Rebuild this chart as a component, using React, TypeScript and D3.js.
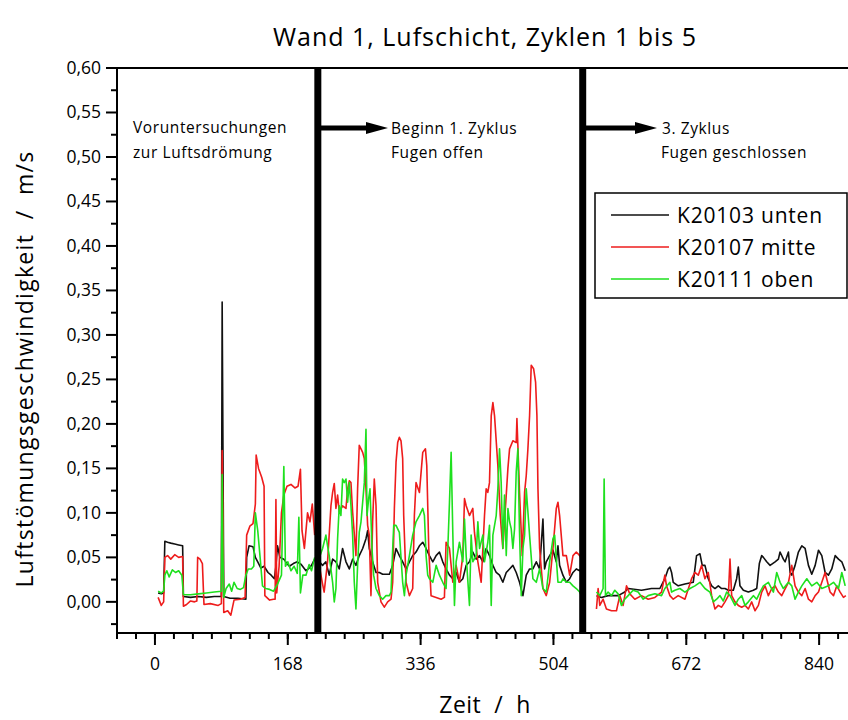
import React from "react";
import * as d3 from "d3";

type P = [number, number];

const title = "Wand 1, Lufschicht, Zyklen 1 bis 5";
const xLabel = "Zeit  /  h";
const yLabel = "Luftstömungsgeschwindigkeit  /  m/s";
const xTicksMajor = [0, 168, 336, 504, 672, 840];
const yTicksMajor = [0, 0.05, 0.1, 0.15, 0.2, 0.25, 0.3, 0.35, 0.4, 0.45, 0.5, 0.55, 0.6];
const seriesNames = ["K20103 unten", "K20107 mitte", "K20111 oben"];
const seriesColors = ["#111111", "#ee1c1c", "#1ee01e"];
const cycleMarks = [206, 541];

const untenA: P[] = [[4,0.01],[8,0.009],[11,0.01],[12.5,0.068],[16,0.067],[20,0.066],[25,0.065],[30,0.064],[35,0.063],[36,0.006],[45,0.005],[55,0.006],[65,0.005],[75,0.006],[84,0.006],[85,0.337],[86,0.176],[87,0.006],[95,0.004],[105,0.004],[115,0.003],[116,0.05],[119,0.063],[124,0.062],[127,0.05],[130,0.045],[134,0.038],[138,0.04],[143,0.033],[147,0.03],[151,0.026],[153,0.04],[155,0.063],[158,0.05],[163,0.048],[167,0.043],[170,0.04],[175,0.043],[180,0.045],[185,0.042],[191,0.035],[195,0.038],[198,0.041],[202,0.048]];
const untenB: P[] = [[208,0.045],[212,0.041],[216.2,0.045],[220.4,0.03],[224.7,0.048],[228.9,0.045],[233.1,0.037],[237.3,0.06],[241.6,0.045],[245.8,0.037],[250,0.048],[254.2,0.041],[258.4,0.052],[262.7,0.06],[266.9,0.071],[269,0.08],[271.1,0.06],[275.3,0.045],[279.6,0.033],[283.8,0.033],[288,0.031],[296.5,0.031],[300.7,0.041],[304.9,0.06],[309.1,0.052],[313.3,0.045],[317.6,0.037],[321.8,0.045],[326,0.052],[330.2,0.056],[334.5,0.063],[338.7,0.067],[342.9,0.06],[347.1,0.052],[351.4,0.045],[355.6,0.052],[359.8,0.056],[364,0.045],[368.2,0.037],[372.5,0.03],[376.7,0.026],[380.9,0.033],[385.1,0.022],[389.4,0.026],[393.6,0.041],[397.8,0.045],[402,0.056],[406.3,0.048],[410.5,0.052],[414.7,0.045],[418.9,0.06],[423.1,0.052],[427.4,0.041],[431.6,0.033],[435.8,0.03],[440,0.022],[444.3,0.033],[448.5,0.037],[452.7,0.041],[456.9,0.033],[461.1,0.022],[465.4,0.007],[469.6,0.03],[473.8,0.037],[478,0.037],[482.3,0.045],[486.5,0.037],[490.7,0.093],[492.8,0.037],[494.9,0.045],[499.2,0.052],[503.4,0.058],[507.6,0.045],[509.7,0.063],[511.8,0.041],[516,0.03],[520.3,0.022],[524.5,0.026],[528.7,0.033],[532.9,0.037],[537.2,0.035],[541.4,0.041]];
const untenC: P[] = [[558.4,0.007],[564.7,0.005],[573.1,0.007],[585.8,0.007],[594.2,0.011],[598.5,0.015],[615.4,0.013],[628,0.015],[638.6,0.015],[644.9,0.026],[649.1,0.037],[651.3,0.039],[653.4,0.033],[655.5,0.022],[661.8,0.018],[670.3,0.02],[680.8,0.022],[685,0.052],[689.3,0.054],[692.2,0.041],[695.6,0.041],[699.8,0.026],[704.1,0.018],[708.3,0.015],[712.5,0.018],[716.7,0.015],[720.9,0.015],[725.2,0.013],[731.5,0.013],[735.7,0.026],[737.8,0.039],[739.9,0.018],[744.2,0.013],[750.5,0.011],[756.8,0.013],[761.1,0.015],[764.4,0.043],[767.4,0.052],[769.5,0.05],[773.7,0.045],[778,0.041],[784.3,0.045],[788.5,0.048],[790.6,0.056],[794.8,0.048],[797,0.045],[801.2,0.056],[803.3,0.033],[805.4,0.03],[809.6,0.041],[813.8,0.056],[818.1,0.063],[822.3,0.06],[826.5,0.041],[830.7,0.031],[835,0.041],[839.2,0.058],[843.4,0.052],[847.6,0.033],[851.8,0.03],[856,0.037],[860.3,0.052],[864.5,0.048],[868.7,0.045],[873,0.035]];

const mitteA: P[] = [[4,0.005],[8,-0.004],[11,0.0],[12.5,0.05],[16,0.052],[20,0.048],[25,0.053],[30,0.05],[35,0.051],[36,-0.005],[40,-0.003],[45,0.001],[50,0.0],[53,0.001],[54,0.05],[57,0.048],[60,0.043],[62,-0.003],[70,-0.002],[80,-0.004],[84,-0.002],[85,0.17],[86,0.1],[87,-0.012],[92,-0.01],[96,-0.015],[100,0.002],[108,0.003],[114,0.005],[116,0.075],[120,0.085],[124,0.088],[127,0.11],[128,0.165],[131,0.15],[135,0.14],[138,0.13],[139,0.007],[145,0.002],[150,0.003],[152,0.003],[153,0.115],[154,0.01],[157,0.04],[160,0.1],[163,0.12],[167,0.13],[172,0.132],[177,0.128],[181,0.13],[184,0.149],[186,0.08],[189,0.06],[193,0.1],[196,0.09],[199,0.11],[202,0.075]];
const mitteB: P[] = [[208,0.04],[212,0.02],[214,0.011],[218.3,0.045],[222.6,0.108],[224.7,0.123],[226.8,0.133],[228.9,0.105],[231,0.12],[233.1,0.101],[237.3,0.108],[241.6,0.105],[243.7,0.127],[245.8,0.136],[247.9,0.134],[250,0.101],[254.2,0.052],[256.3,0.127],[258.4,0.176],[260.6,0.172],[262.7,0.168],[264.8,0.161],[266.9,0.127],[269,0.086],[271.1,0.075],[273.2,0.007],[275.3,0.09],[277.4,0.138],[279.6,0.108],[281.7,0.022],[285.9,0.0],[290.1,-0.006],[294.3,0.0],[298.6,0.003],[300.7,0.022],[302.8,0.105],[304.9,0.157],[307,0.179],[309.1,0.185],[311.2,0.181],[313.3,0.161],[314.6,0.097],[317.6,0.022],[321.8,0.007],[326,0.015],[328.1,0.097],[330.2,0.134],[334.5,0.123],[338.7,0.168],[342.1,0.172],[343.8,0.153],[346.3,0.06],[349.2,0.007],[355.6,0.005],[361.9,0.003],[366.1,0.005],[368.2,0.067],[372.5,0.06],[376.7,0.022],[380.9,0.041],[385.1,0.022],[389.4,0.052],[391.5,0.116],[393.6,0.108],[397.8,0.097],[402,0.105],[404.1,0.078],[408.4,0.045],[412.6,0.022],[416.8,0.097],[418.9,0.127],[421,0.123],[423.1,0.134],[425.3,0.209],[427.4,0.224],[429.5,0.209],[433.7,0.153],[436.7,0.097],[440,0.06],[444.3,0.12],[446.4,0.15],[448.5,0.172],[452.7,0.181],[456.9,0.179],[457.8,0.206],[459,0.176],[461.1,0.123],[464.5,0.052],[467.5,0.123],[469.6,0.142],[471.7,0.172],[473.8,0.209],[475.9,0.266],[478.9,0.262],[481.4,0.247],[483.1,0.209],[484.4,0.127],[486.5,0.06],[490.7,0.015],[494.9,0.007],[499.2,0.022],[503.4,0.06],[507.6,0.105],[509.7,0.112],[511.8,0.097],[516,0.052],[520.3,0.052],[524.5,0.03],[528.7,0.052],[532.9,0.056],[537.2,0.052],[541.4,0.045]];
const mitteC: P[] = [[558.4,-0.008],[560.5,0.015],[562.6,-0.004],[566.8,0.003],[571,-0.008],[577.4,-0.01],[583.7,-0.01],[587.9,0.007],[592.1,-0.004],[596.4,0.018],[600.6,0.009],[606.9,0.003],[615.4,0.007],[623.8,0.003],[632.3,0.005],[640.7,0.011],[644.9,0.03],[647,0.018],[651.3,0.007],[655.5,0.003],[661.8,0.007],[670.3,0.003],[678.7,0.026],[682.9,0.033],[687.2,0.03],[691.4,0.041],[695.6,0.026],[699.8,0.033],[704.1,0.007],[708.3,-0.008],[712.5,-0.004],[716.7,-0.006],[720.9,0.0],[725.2,0.007],[727.3,0.048],[729.4,0.007],[733.6,0.0],[737.8,-0.004],[742.1,-0.006],[746.3,-0.004],[750.5,-0.008],[754.7,0.0],[758.9,-0.01],[763.2,-0.004],[767.4,0.011],[771.6,0.018],[775.8,0.007],[780.1,0.015],[784.3,0.018],[788.5,0.011],[792.7,0.007],[801.2,0.022],[805.4,0.041],[809.6,0.018],[813.8,0.011],[818.1,0.007],[822.3,0.015],[826.5,0.003],[830.7,0.0],[835,0.007],[839.2,0.011],[843.4,0.022],[847.6,0.033],[853.9,0.011],[858.2,0.007],[862.4,0.018],[866.6,0.011],[870.8,0.005],[873.8,0.007]];

const obenA: P[] = [[4,0.012],[8,0.01],[11,0.012],[12.5,0.03],[15,0.035],[18,0.028],[22,0.036],[26,0.033],[30,0.035],[34,0.03],[36,0.008],[45,0.008],[55,0.009],[65,0.01],[75,0.011],[84,0.012],[85,0.143],[86,0.05],[87,0.005],[90,0.015],[94,0.02],[97,0.012],[100,0.022],[104,0.015],[108,0.014],[112,0.016],[115,0.03],[118,0.037],[122,0.037],[125,0.04],[127,0.1],[130,0.08],[133,0.05],[136,0.018],[140,0.015],[145,0.014],[150,0.012],[155,0.02],[160,0.03],[163,0.152],[165,0.04],[168,0.045],[172,0.035],[176,0.04],[180,0.032],[182,0.095],[184,0.01],[187,0.03],[191,0.03],[195,0.042],[198,0.035],[202,0.05]];
const obenB: P[] = [[208,0.05],[212,0.06],[216.2,0.075],[218.3,0.063],[220.4,0.052],[224.7,0.022],[226.8,0.0],[228.9,0.015],[231,0.071],[233.1,0.108],[235.2,0.097],[237.3,0.138],[239.4,0.134],[241.6,0.138],[243.7,0.112],[245.8,0.134],[247.9,0.108],[250,0.075],[252.1,0.022],[254.2,-0.008],[256.3,0.041],[258.4,0.078],[260.6,0.09],[262.7,0.112],[264.8,0.134],[266.9,0.194],[268.2,0.097],[270.3,0.116],[272,0.127],[274.5,0.06],[276.6,0.03],[279.6,0.015],[283.8,0.007],[288,0.003],[292.2,0.007],[296.5,0.007],[298.6,0.011],[300.7,0.06],[302,0.086],[304.9,0.086],[309.1,0.078],[313.3,0.022],[315.5,0.007],[317.6,0.03],[321.8,0.052],[326,0.075],[330.2,0.09],[334.5,0.097],[338.7,0.105],[340.8,0.097],[342.9,0.052],[345,0.03],[347.1,0.026],[351.4,0.022],[355.6,0.041],[359.8,0.03],[364,0.022],[368.2,0.015],[370.4,0.06],[372.5,0.112],[374.6,0.168],[376.7,0.078],[378.8,-0.004],[380.9,0.045],[385.1,0.067],[389.4,0.045],[391.5,0.093],[393.6,0.052],[397.8,-0.004],[399.9,0.075],[402,0.045],[406.3,0.052],[408.4,0.09],[410.5,0.06],[414.7,0.075],[416.8,0.045],[421,0.067],[423.1,0.086],[425.3,-0.004],[427.4,0.075],[431.6,0.097],[433.7,0.127],[435.8,0.172],[437.9,0.134],[440,0.06],[442.1,0.12],[444.3,0.052],[446.4,0.105],[448.5,0.09],[450.6,0.082],[452.7,0.06],[454.8,0.082],[456.9,0.146],[459,0.172],[461.1,0.078],[463.3,0.007],[465.4,0.06],[467.5,0.075],[469.6,0.127],[473.8,0.075],[478,0.026],[482.3,0.022],[486.5,0.037],[490.7,0.015],[494.9,0.011],[499.2,0.045],[503.4,0.071],[505.5,0.075],[509.7,0.022],[513.9,0.022],[516,0.026],[520.3,0.022],[524.5,0.022],[528.7,0.018],[532.9,0.015],[537.2,0.011],[541.4,0.003]];
const obenC: P[] = [[558.4,0.011],[562.6,0.007],[566.8,0.015],[568.1,0.138],[569.8,0.007],[573.1,0.011],[577.4,0.007],[581.6,0.013],[585.8,0.009],[590,-0.004],[594.2,0.003],[598.5,0.007],[604.8,0.013],[611.1,0.011],[617.5,0.003],[623.8,0.007],[632.3,0.009],[640.7,0.007],[644.9,0.015],[651.3,0.022],[653.4,0.011],[657.6,0.013],[663.9,0.015],[670.3,0.011],[676.6,0.015],[682.9,0.018],[689.3,0.022],[695.6,0.015],[701.9,0.011],[706.2,0.0],[710.4,0.003],[714.6,0.007],[718.8,0.001],[723.1,0.011],[727.3,0.007],[733.6,-0.004],[737.8,0.003],[742.1,0.007],[746.3,-0.004],[750.5,0.0],[756.8,0.007],[761.1,0.003],[765.3,0.011],[769.5,0.018],[775.8,0.022],[782.2,0.011],[786.4,0.033],[790.6,0.022],[794.8,0.015],[801.2,0.022],[805.4,0.018],[809.6,0.003],[813.8,0.011],[818.1,0.018],[824.4,0.026],[830.7,0.018],[837.1,0.022],[843.4,0.015],[851.8,0.018],[858.2,0.022],[864.5,0.015],[868.7,0.033],[873,0.018]];

const W = 848, H = 720;
const L = 117, R = 846, T = 68, B = 633;
const FONT = "'Open Sans', 'Noto Sans', sans-serif";

export default function App() {
  const x = d3.scaleLinear().domain([-48, 874]).range([L, R]);
  const y = d3.scaleLinear().domain([-0.035, 0.6]).range([B, T]);
  const line = d3.line<P>().x((d) => x(d[0])).y((d) => y(d[1]));
  const series: P[][][] = [
    [untenA, untenB, untenC],
    [mitteA, mitteB, mitteC],
    [obenA, obenB, obenC],
  ];
  const xMinor = d3.range(-48, 874, 24);
  const yMinor = d3.range(-0.025, 0.6, 0.05);
  const fmt = (v: number) => v.toFixed(2).replace(".", ",");
  const arrowY = 128;

  return (
    <svg width={W} height={H} style={{ position: "absolute", left: 0, top: 0, background: "#fff" }} fontFamily={FONT}>
      <defs>
        <clipPath id="plotclip">
          <rect x={L} y={T} width={R - L + 2} height={B - T} />
        </clipPath>
      </defs>
      <text x={485} y={46} textAnchor="middle" fontSize={25} letterSpacing={1}>{title}</text>

      {/* data */}
      <g clipPath="url(#plotclip)">
        {series.map((segs, i) =>
          segs.map((seg, j) => (
            <path key={`${i}-${j}`} d={line(seg) || ""} fill="none" stroke={seriesColors[i]} strokeWidth={1.6} strokeLinejoin="round" />
          ))
        )}
      </g>

      {/* cycle lines */}
      {cycleMarks.map((c) => (
        <line key={c} x1={x(c)} x2={x(c)} y1={T} y2={B} stroke="#000" strokeWidth={7} />
      ))}
      {/* arrows */}
      {[{ x0: x(cycleMarks[0]), x1: 388 }, { x0: x(cycleMarks[1]), x1: 657 }].map((a, i) => (
        <g key={i}>
          <line x1={a.x0} x2={a.x1 - 18} y1={arrowY} y2={arrowY} stroke="#000" strokeWidth={5} />
          <path d={`M${a.x1 - 22},${arrowY - 6} L${a.x1},${arrowY} L${a.x1 - 22},${arrowY + 6} Z`} fill="#000" />
        </g>
      ))}
      <g fontSize={15.5} letterSpacing={0.6}>
        <text x={133} y={133}>Voruntersuchungen</text>
        <text x={133} y={158}>zur Luftsdrömung</text>
        <text x={391} y={134}>Beginn 1. Zyklus</text>
        <text x={391} y={158}>Fugen offen</text>
        <text x={662} y={134}>3. Zyklus</text>
        <text x={661} y={158}>Fugen geschlossen</text>
      </g>

      {/* frame */}
      <line x1={L} x2={W} y1={T} y2={T} stroke="#000" strokeWidth={2} />
      <line x1={L} x2={L} y1={T} y2={B + 1} stroke="#000" strokeWidth={2} />
      <line x1={L} x2={W} y1={B} y2={B} stroke="#000" strokeWidth={2} />

      {/* y ticks */}
      {yTicksMajor.map((t) => (
        <g key={t}>
          <line x1={L - 11} x2={L} y1={y(t)} y2={y(t)} stroke="#000" strokeWidth={2} />
          <text x={101} y={y(t) + 6} textAnchor="end" fontSize={17.5}>{fmt(t)}</text>
        </g>
      ))}
      {yMinor.map((t) => (
        <line key={t} x1={L - 6} x2={L} y1={y(t)} y2={y(t)} stroke="#000" strokeWidth={2} />
      ))}
      {/* x ticks */}
      {xMinor.map((t) => (
        <line key={t} x1={x(t)} x2={x(t)} y1={B} y2={B + 6} stroke="#000" strokeWidth={2} />
      ))}
      {xTicksMajor.map((t) => (
        <g key={t}>
          <line x1={x(t)} x2={x(t)} y1={B} y2={B + 12} stroke="#000" strokeWidth={2} />
          <text x={x(t)} y={670} textAnchor="middle" fontSize={17.5}>{t}</text>
        </g>
      ))}

      <text x={485} y={713} textAnchor="middle" fontSize={23} letterSpacing={0.5} style={{ whiteSpace: "pre" }}>{xLabel}</text>
      <text transform="translate(33,369) rotate(-90)" textAnchor="middle" fontSize={23} letterSpacing={1.3} style={{ whiteSpace: "pre" }}>{yLabel}</text>

      {/* legend */}
      <rect x={595} y={193} width={252} height={105} fill="#fff" stroke="#000" strokeWidth={1.5} />
      {seriesNames.map((n, i) => (
        <g key={n}>
          <line x1={611} x2={669} y1={215 + i * 32} y2={215 + i * 32} stroke={seriesColors[i]} strokeWidth={1.6} />
          <text x={677} y={215 + i * 32 + 7.5} fontSize={21} letterSpacing={0.8}>{n}</text>
        </g>
      ))}
    </svg>
  );
}
